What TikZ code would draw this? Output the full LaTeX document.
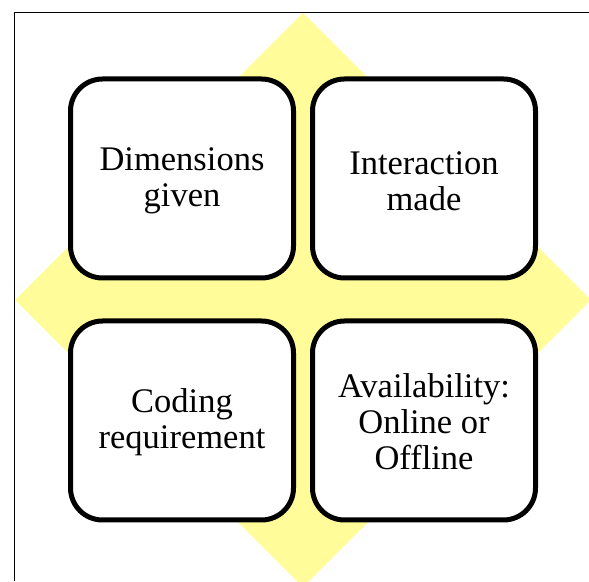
\documentclass[tikz,border=0pt]{standalone}
\usepackage{fontspec}
\setmainfont{Liberation Serif}
\definecolor{dyellow}{RGB}{255,252,153}
\begin{document}
\begin{tikzpicture}[x=1pt,y=1pt,
  box/.style={draw=black, line width=5pt, rounded corners=32pt, fill=white,
    minimum width=223pt, minimum height=199pt, inner sep=0pt},
  lbl/.style={align=center, font=\fontsize{34.5}{36}\selectfont, inner sep=0pt}]
\useasboundingbox (0,0) rectangle (589,581);
\clip (0,0) rectangle (589,581);
\fill[dyellow] (303,568) -- (15,281) -- (303,-6) -- (591,281) -- cycle;
\draw[line width=1pt] (14,0) -- (14,568) -- (589,568);
\node[box] (dim) at (182,402.5) {};
\node[box] (int) at (424,402.5) {};
\node[box] (cod) at (182,160.5) {};
\node[box] (ava) at (424,160.5) {};
\node[lbl] (dimt) at ([yshift=-2.5pt]dim.center) {Dimensions\\given};
\node[lbl] (intt) at ([yshift=-2.5pt]int.center) {Interaction\\made};
\node[lbl] (codt) at ([yshift=-2pt]cod.center) {Coding\\requirement};
\node[lbl] (avat) at ([yshift=-1pt]ava.center) {Availability:\\Online or\\Offline};
\end{tikzpicture}
\end{document}
